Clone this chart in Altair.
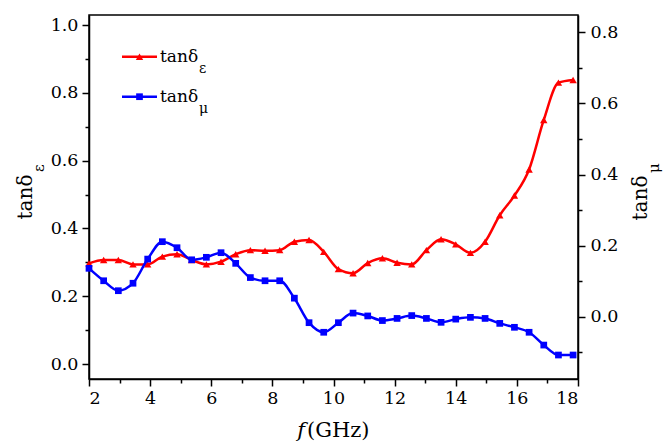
import altair as alt
import pandas as pd

freq = [2.0, 2.48, 2.96, 3.44, 3.92, 4.4, 4.88, 5.36, 5.84, 6.32, 6.8, 7.28, 7.76,
        8.24, 8.72, 9.2, 9.68, 10.16, 10.64, 11.12, 11.6, 12.08, 12.56, 13.04,
        13.52, 14.0, 14.48, 14.96, 15.44, 15.92, 16.4, 16.88, 17.36, 17.84]
tan_eps = [0.297, 0.307, 0.307, 0.294, 0.294, 0.317, 0.324, 0.307, 0.294, 0.302,
           0.324, 0.336, 0.334, 0.336, 0.361, 0.366, 0.331, 0.280, 0.268, 0.298,
           0.312, 0.299, 0.294, 0.336, 0.368, 0.353, 0.328, 0.361, 0.439, 0.497,
           0.574, 0.720, 0.830, 0.838]
tan_mu = [0.136, 0.101, 0.073, 0.094, 0.162, 0.211, 0.194, 0.160, 0.167, 0.180,
          0.150, 0.110, 0.101, 0.101, 0.052, -0.017, -0.044, -0.017, 0.010, 0.002,
          -0.011, -0.005, 0.003, -0.005, -0.016, -0.007, -0.002, -0.005, -0.019,
          -0.030, -0.044, -0.080, -0.108, -0.108]

x_ticks = [2, 3, 4, 5, 6, 7, 8, 9, 10, 11, 12, 13, 14, 15, 16, 17, 18]
left_ticks = [0.0, 0.1, 0.2, 0.3, 0.4, 0.5, 0.6, 0.7, 0.8, 0.9, 1.0]
right_ticks = [-0.1, 0.0, 0.1, 0.2, 0.3, 0.4, 0.5, 0.6, 0.7, 0.8]

df = pd.DataFrame({"f": freq, "eps": tan_eps, "mu": tan_mu})

RED = "#FF0000"
BLUE = "#0000FF"
FONT = "DejaVu Serif"
LABEL_SIZE = 17.5

x_axis = alt.Axis(
    values=x_ticks, title=None, format="d",
    labelExpr="datum.value % 2 == 0 ? datum.label : ''",
    tickSize={"condition": {"test": "datum.value % 2 == 0", "value": 7}, "value": 4},
    labelPadding=3, labelFont=FONT,
)
x_enc = alt.X("f:Q", scale=alt.Scale(domain=[2, 18], nice=False, zero=False), axis=x_axis)

left_axis = alt.Axis(
    values=left_ticks, title=None, orient="left", labelFont=FONT,
    labelExpr="round(datum.value*10) % 2 == 0 ? format(datum.value, '.1f') : ''",
    tickSize={"condition": {"test": "round(datum.value*10) % 2 == 0", "value": 7}, "value": 4},
    labelPadding=4,
)
right_axis = alt.Axis(
    values=right_ticks, title=None, orient="right", labelFont=FONT,
    labelExpr="round(datum.value*10) % 2 == 0 ? format(datum.value, '.1f') : ''",
    tickSize={"condition": {"test": "round(datum.value*10) % 2 == 0", "value": 7}, "value": 4},
    labelPadding=5,
)

y_left = alt.Y("eps:Q", scale=alt.Scale(domain=[-0.044, 1.0295], nice=False, zero=False), axis=left_axis)
y_right = alt.Y("mu:Q", scale=alt.Scale(domain=[-0.1755, 0.849], nice=False, zero=False), axis=right_axis)

base = alt.Chart(df)
red_line = base.mark_line(interpolate="monotone", color=RED, strokeWidth=2.5).encode(x=x_enc, y=y_left)
red_pts = base.mark_point(shape="triangle-up", filled=True, size=55, color=RED, opacity=1).encode(x=x_enc, y=y_left)
blue_line = base.mark_line(interpolate="monotone", color=BLUE, strokeWidth=2.5).encode(x=x_enc, y=y_right)
blue_pts = base.mark_point(shape="square", filled=True, size=45, color=BLUE, opacity=1).encode(x=x_enc, y=y_right)

left_layer = alt.layer(red_line, red_pts)
right_layer = alt.layer(blue_line, blue_pts)

one = pd.DataFrame({"a": [0]})


def txt(s, x, y, size, angle=0, align="left", style="normal"):
    kw = dict(text=s, fontSize=size, font=FONT, align=align, baseline="alphabetic",
              color="black", fontStyle=style)
    if angle:
        kw["angle"] = angle
    return alt.Chart(one).mark_text(**kw).encode(x=alt.value(x), y=alt.value(y))


annots = [
    alt.Chart(one).mark_rule(color=RED, strokeWidth=2.5).encode(x=alt.value(33), x2=alt.value(68), y=alt.value(41.7)),
    alt.Chart(one).mark_point(shape="triangle-up", filled=True, size=55, color=RED, opacity=1).encode(x=alt.value(50.5), y=alt.value(41.7)),
    txt("tanδ", 71, 46.5, 17),
    txt("ε", 110, 58, 14),
    alt.Chart(one).mark_rule(color=BLUE, strokeWidth=2.5).encode(x=alt.value(33), x2=alt.value(68), y=alt.value(81.7)),
    alt.Chart(one).mark_point(shape="square", filled=True, size=45, color=BLUE, opacity=1).encode(x=alt.value(50.5), y=alt.value(81.7)),
    txt("tanδ", 71, 86.5, 17),
    txt("μ", 110, 98, 14),
    txt("tanδ", -57, 182, 20, angle=270, align="center"),
    txt("ε", -45, 157, 15, angle=270, align="left"),
    txt("tanδ", 558, 183, 20, angle=270, align="center"),
    txt("μ", 570, 158, 15, angle=270, align="left"),
    txt("f", 216, 422, 21, align="right", style="italic"),
    txt("(GHz)", 218, 422, 21, align="left"),
]

chart = alt.layer(left_layer, right_layer, *annots).resolve_scale(y="independent").properties(
    width=489, height=364,
    autosize=alt.AutoSizeParams(type="none"),
    padding={"left": 89, "top": 15, "right": 87, "bottom": 64},
).configure(font=FONT).configure_view(
    stroke="black", strokeWidth=1.5
).configure_axis(
    grid=False, labelFont=FONT, labelFontSize=LABEL_SIZE, labelColor="black",
    domainColor="black", domainWidth=1.5, tickColor="black", tickWidth=1.5,
)

chart.save("out.html", embed_options={"renderer": "svg", "actions": False})
